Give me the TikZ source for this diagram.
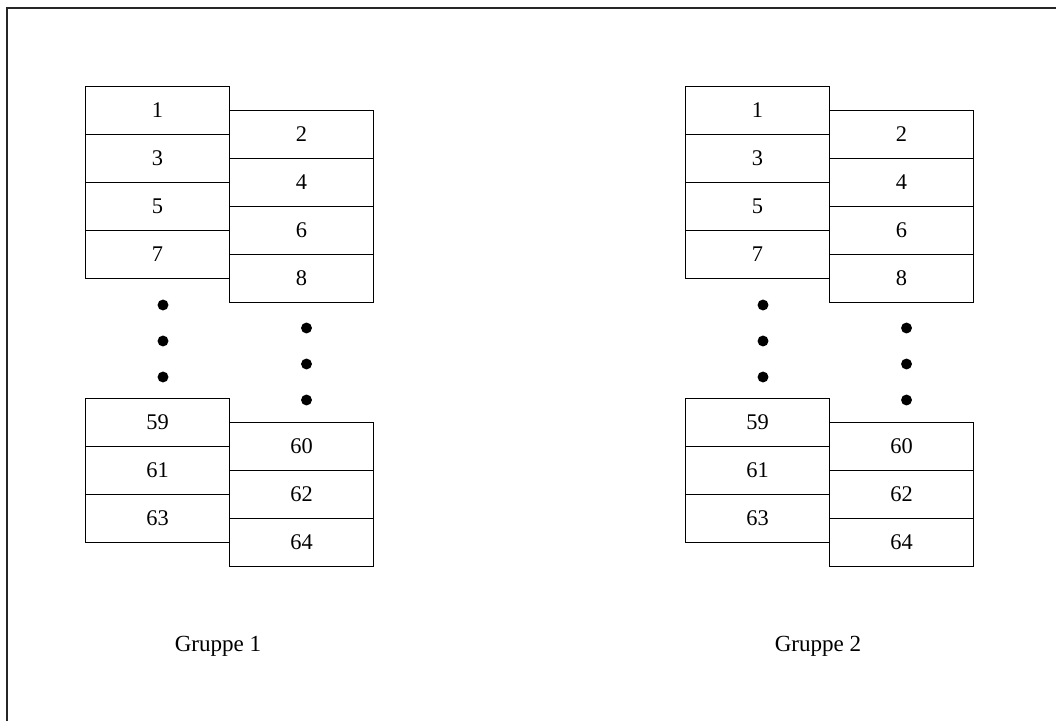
\documentclass[tikz,border=0pt]{standalone}
\usepackage{fontspec}
\setmainfont{Liberation Serif}
\begin{document}
\begin{tikzpicture}[x=0.75pt,y=-0.75pt,
  cell/.style={draw=black,line width=0.9pt,rectangle,minimum width=108pt,minimum height=36pt,
    inner sep=0pt,font=\fontsize{16.8}{19}\selectfont},
  ellip/.style={circle,fill=black,inner sep=0pt,minimum size=8.2pt},
  grouplabel/.style={anchor=base,inner sep=0pt,font=\fontsize{17.3}{20}\selectfont},
  frame/.style={draw=black!85,line width=1.3pt}]
\useasboundingbox (0,0) rectangle (1056,721);
% open frame: top and left edges
\coordinate (fbl) at (7,721);
\coordinate (ftl) at (7,8);
\coordinate (ftr) at (1056,8);
\draw[frame] (fbl) -- (ftl) -- (ftr);
% two identical groups, 600px apart
\foreach \g/\dx in {1/0,2/600}{
  \begin{scope}[xshift=\dx*0.75pt]
    % upper stacks
    \foreach \n [count=\i from 0] in {1,3,5,7}
      \node[cell] (g\g-c\n) at (157.5,110.5+48*\i) {\n};
    \foreach \n [count=\i from 0] in {2,4,6,8}
      \node[cell] (g\g-c\n) at (301.5,134.5+48*\i) {\n};
    % lower stacks
    \foreach \n [count=\i from 0] in {59,61,63}
      \node[cell] (g\g-c\n) at (157.5,422.5+48*\i) {\n};
    \foreach \n [count=\i from 0] in {60,62,64}
      \node[cell] (g\g-c\n) at (301.5,446.5+48*\i) {\n};
    % continuation dots
    \foreach \y [count=\i] in {305,341,377}
      \node[ellip] (g\g-dl\i) at (163,\y) {};
    \foreach \y [count=\i] in {328,364,400}
      \node[ellip] (g\g-dr\i) at (306.5,\y) {};
    \node[grouplabel] (g\g-label) at (218,651.5) {Gruppe \g};
  \end{scope}
}
\end{tikzpicture}
\end{document}
